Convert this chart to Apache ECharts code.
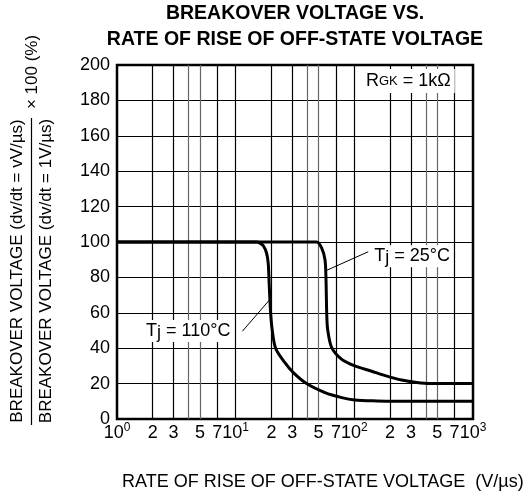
<!DOCTYPE html>
<html>
<head>
<meta charset="utf-8">
<script src="https://cdn.jsdelivr.net/npm/echarts@6/dist/echarts.min.js"></script>
<style>
html, body { margin: 0; padding: 0; background: #fff; }
#main { width: 524px; height: 496px; }
</style>
</head>
<body>
<div id="main"></div>
<script>
// curve, x in V/us (log axis), y in %
const xTj25 = [1, 10, 45, 48.2, 53.1, 56.6, 57.7, 58.5, 59.6, 64.5, 78.3, 101, 140, 182, 250, 336, 436, 1000];
const yTj25 = [100, 100, 100, 100, 96.6, 90, 78.8, 60, 50.6, 40.3, 33.7, 30, 27, 24.5, 22, 20.6, 20, 20];
const xTj110 = [1, 10, 15, 16, 17.1, 18.2, 18.8, 19.2, 19.7, 20.3, 21.7, 26, 30.6, 39.6, 56.6, 78.3, 101, 155, 213, 1000];
const yTj110 = [100, 100, 100, 99.4, 97.9, 93.8, 88, 75, 60, 50.6, 40, 31.8, 26.2, 20, 14.9, 12.1, 10.8, 10.2, 10, 10];

// x tick labels and vertical grid lines (4 and 5 drawn lighter)
const xLabelValues = [1, 2, 3, 5, 7, 10, 20, 30, 50, 70, 100, 200, 300, 500, 700, 1000];
const xGridValues = [2, 3, 4, 5, 7, 10, 20, 30, 40, 50, 70, 100, 200, 300, 400, 500, 700];
const xGridLight = [4, 5, 40, 50, 400, 500];

const FONT = '"Liberation Sans", Arial, sans-serif';

let chart = echarts.init(document.getElementById('main'));

chart.setOption({
    animation: false,
    grid: {
        left: 117, top: 65, width: 356, height: 354,
        show: true, borderColor: '#000', borderWidth: 2.5
    },
    xAxis: {
        type: 'log', logBase: 10, min: 1, max: 1000,
        axisLine: { show: false },
        axisTick: { show: false },
        axisLabel: { show: false },
        splitLine: { show: false }
    },
    yAxis: {
        type: 'value', min: 0, max: 200, interval: 20,
        axisLine: { show: false },
        axisTick: { show: false },
        axisLabel: { color: '#000', fontSize: 18, fontFamily: FONT, margin: 7 },
        splitLine: { lineStyle: { color: '#000', width: 1.2 } }
    },
    series: [
        {
            type: 'line',
            data: [],
            z: 1,
            markLine: {
                silent: true,
                symbol: 'none',
                animation: false,
                label: { show: false },
                data: xGridValues.map(v => ({
                    xAxis: v,
                    lineStyle: {
                        type: 'solid',
                        width: 1.2,
                        color: xGridLight.indexOf(v) >= 0 ? '#666' : '#000'
                    }
                }))
            }
        },
        {
            name: 'Tj = 25°C',
            type: 'line',
            data: xTj25.map((x, i) => [x, yTj25[i]]),
            showSymbol: false,
            smooth: 0.3,
            lineStyle: { color: '#000', width: 3 },
            z: 5
        },
        {
            name: 'Tj = 110°C',
            type: 'line',
            data: xTj110.map((x, i) => [x, yTj110[i]]),
            showSymbol: false,
            smooth: 0.3,
            lineStyle: { color: '#000', width: 3 },
            z: 5
        }
    ]
});

function px(x, y) {
    return chart.convertToPixel({ gridIndex: 0 }, [x, y]);
}

let graphic = [];

// x tick labels, superscript on the decades
xLabelValues.forEach(v => {
    let exp = Math.round(Math.log10(v));
    let isDecade = Math.abs(Math.pow(10, exp) - v) < 1e-9;
    let first = v >= 10 ? v / Math.pow(10, Math.floor(Math.log10(v) + 1e-9)) : v;
    let text = isDecade ? '{b|10}{sup|' + exp + '}' : '{b|' + Math.round(first) + '}';
    graphic.push({
        type: 'text',
        x: px(v, 0)[0],
        y: 433,
        z: 10,
        style: {
            text: text,
            textAlign: 'center',
            textVerticalAlign: 'middle',
            fill: '#000',
            rich: {
                b: { fontSize: 18, fontFamily: FONT, lineHeight: 22, fill: '#000' },
                sup: { fontSize: 12, fontFamily: FONT, verticalAlign: 'top', lineHeight: 12, fill: '#000' }
            }
        }
    });
});

// title
graphic.push({
    type: 'text', x: 295, y: 27, z: 10,
    style: {
        text: 'BREAKOVER VOLTAGE VS.\nRATE OF RISE OF OFF-STATE VOLTAGE',
        textAlign: 'center', textVerticalAlign: 'middle',
        font: 'bold 19.5px ' + FONT, lineHeight: 26, fill: '#000'
    }
});

// x axis name
graphic.push({
    type: 'text', x: 122, y: 482, z: 10,
    style: {
        text: 'RATE OF RISE OF OFF-STATE VOLTAGE  (V/µs)',
        textAlign: 'left', textVerticalAlign: 'middle',
        font: '18px ' + FONT, fill: '#000'
    }
});

// y axis name: fraction x 100 (%)
graphic.push({
    type: 'text', x: 17, y: 271, rotation: Math.PI / 2, z: 10,
    style: {
        text: 'BREAKOVER VOLTAGE (dv/dt = vV/µs)',
        textAlign: 'center', textVerticalAlign: 'middle',
        font: '17px ' + FONT, fill: '#000'
    }
});
graphic.push({
    type: 'text', x: 46, y: 271, rotation: Math.PI / 2, z: 10,
    style: {
        text: 'BREAKOVER VOLTAGE (dv/dt = 1V/µs)',
        textAlign: 'center', textVerticalAlign: 'middle',
        font: '17px ' + FONT, fill: '#000'
    }
});
graphic.push({
    type: 'line', z: 10,
    shape: { x1: 31.5, y1: 118, x2: 31.5, y2: 425 },
    style: { stroke: '#000', lineWidth: 1.2 }
});
graphic.push({
    type: 'text', x: 32, y: 72, rotation: Math.PI / 2, z: 10,
    style: {
        text: '× 100 (%)',
        textAlign: 'center', textVerticalAlign: 'middle',
        font: '17px ' + FONT, fill: '#000'
    }
});

// RGK note
graphic.push({
    type: 'text', x: 362, y: 81, z: 10,
    style: {
        text: '{r|R}{s|GK}{r| = 1kΩ}',
        textAlign: 'left', textVerticalAlign: 'middle',
        backgroundColor: '#fff', padding: [2, 4, 2, 4],
        rich: {
            r: { fontSize: 18, fontFamily: FONT, lineHeight: 20, fill: '#000' },
            s: { fontSize: 13, fontFamily: FONT, lineHeight: 16, fill: '#000' }
        }
    }
});

// curve labels with leader lines
const tjRich = {
    a: { fontSize: 18, fontFamily: FONT, lineHeight: 22, fill: '#000' },
    j: { fontSize: 18, fontFamily: FONT, verticalAlign: 'bottom', lineHeight: 20, fill: '#000' }
};
let p25 = px(307, 92);
graphic.push({
    type: 'text', x: p25[0], y: p25[1], z: 10,
    style: {
        text: '{a|T}{j|j}{a| = 25°C}', textAlign: 'center', textVerticalAlign: 'middle',
        backgroundColor: '#fff', padding: [0, 3, 0, 3], rich: tjRich
    }
});
let a25 = px(131, 94.5), b25 = px(58.5, 84);
graphic.push({
    type: 'line', z: 11,
    shape: { x1: a25[0], y1: a25[1], x2: b25[0], y2: b25[1] },
    style: { stroke: '#000', lineWidth: 1 }
});

let p110 = px(3.98, 49.7);
graphic.push({
    type: 'text', x: p110[0], y: p110[1], z: 10,
    style: {
        text: '{a|T}{j|j}{a| = 110°C}', textAlign: 'center', textVerticalAlign: 'middle',
        backgroundColor: '#fff', padding: [0, 3, 0, 3], rich: tjRich
    }
});
let a110 = px(11.4, 49.6), b110 = px(19.4, 67.5);
graphic.push({
    type: 'line', z: 11,
    shape: { x1: a110[0], y1: a110[1], x2: b110[0], y2: b110[1] },
    style: { stroke: '#000', lineWidth: 1 }
});

chart.setOption({ graphic: graphic });
</script>
</body>
</html>
